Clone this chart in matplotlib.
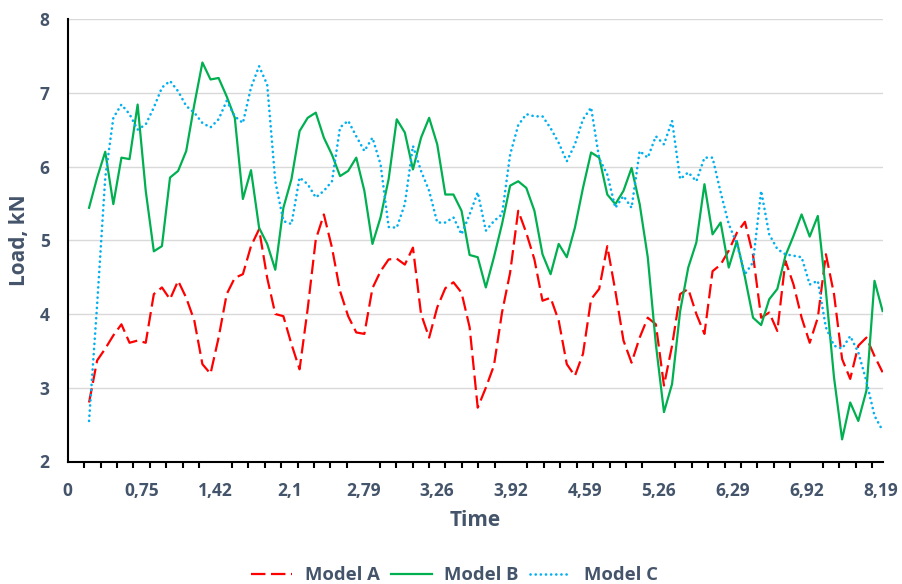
import numpy as np
import matplotlib.pyplot as plt
from matplotlib.ticker import FixedLocator

plt.rcParams['font.family'] = ['Open Sans', 'DejaVu Sans']

TEXT = '#44546A'

# category labels shown under the time axis (every 9th sample slot)
time_labels = ['0', '0,75', '1,42', '2,1', '2,79', '3,26', '3,92', '4,59',
               '5,26', '6,29', '6,92', '8,19']

model_a = [2.80, 3.37, 3.53, 3.71, 3.86, 3.61, 3.64, 3.61, 4.27, 4.36,
           4.20, 4.45, 4.22, 3.91, 3.32, 3.19, 3.68, 4.27, 4.49, 4.54,
           4.92, 5.15, 4.49, 4.00, 3.97, 3.59, 3.25, 4.07, 5.01, 5.35,
           4.90, 4.31, 3.97, 3.75, 3.73, 4.35, 4.58, 4.74, 4.75, 4.67,
           4.90, 4.00, 3.68, 4.09, 4.35, 4.43, 4.29, 3.82, 2.73, 3.00,
           3.30, 4.02, 4.56, 5.40, 5.10, 4.74, 4.18, 4.22, 3.91, 3.32,
           3.16, 3.46, 4.20, 4.34, 4.92, 4.31, 3.64, 3.34, 3.68, 3.95,
           3.86, 3.03, 3.57, 4.27, 4.34, 4.00, 3.73, 4.58, 4.67, 4.86,
           5.10, 5.25, 4.80, 3.95, 4.02, 3.77, 4.72, 4.40, 3.95, 3.61,
           3.95, 4.81, 4.27, 3.39, 3.12, 3.57, 3.68, 3.43, 3.21]

model_b = [5.44, 5.85, 6.20, 5.49, 6.12, 6.10, 6.84, 5.67, 4.85, 4.92,
           5.85, 5.94, 6.21, 6.84, 7.41, 7.18, 7.20, 6.95, 6.66, 5.56,
           5.95, 5.17, 4.95, 4.60, 5.44, 5.83, 6.48, 6.66, 6.73, 6.39,
           6.16, 5.87, 5.94, 6.12, 5.67, 4.95, 5.31, 5.83, 6.64, 6.46,
           5.96, 6.39, 6.66, 6.30, 5.62, 5.62, 5.40, 4.80, 4.77, 4.36,
           4.77, 5.22, 5.74, 5.80, 5.71, 5.40, 4.81, 4.54, 4.95, 4.77,
           5.17, 5.71, 6.19, 6.12, 5.62, 5.49, 5.67, 5.98, 5.49, 4.77,
           3.59, 2.67, 3.05, 4.04, 4.63, 4.97, 5.76, 5.08, 5.24, 4.63,
           4.99, 4.50, 3.95, 3.85, 4.20, 4.34, 4.79, 5.06, 5.35, 5.05,
           5.33, 4.31, 3.14, 2.30, 2.80, 2.55, 2.96, 4.45, 4.04]

model_c = [2.55, 4.13, 5.85, 6.66, 6.84, 6.71, 6.50, 6.57, 6.80, 7.07,
           7.16, 7.02, 6.82, 6.73, 6.59, 6.53, 6.64, 6.89, 6.68, 6.59,
           7.07, 7.36, 7.11, 5.80, 5.26, 5.22, 5.85, 5.76, 5.58, 5.67,
           5.80, 6.53, 6.62, 6.41, 6.21, 6.39, 6.03, 5.18, 5.17, 5.49,
           6.28, 5.94, 5.67, 5.24, 5.24, 5.31, 5.08, 5.35, 5.65, 5.13,
           5.26, 5.35, 6.16, 6.56, 6.71, 6.68, 6.68, 6.52, 6.32, 6.07,
           6.30, 6.64, 6.80, 6.11, 5.89, 5.44, 5.60, 5.44, 6.21, 6.12,
           6.41, 6.30, 6.62, 5.83, 5.92, 5.80, 6.12, 6.12, 5.65, 5.22,
           4.95, 4.54, 4.70, 5.67, 5.08, 4.88, 4.81, 4.79, 4.77, 4.40,
           4.45, 3.82, 3.57, 3.53, 3.70, 3.48, 3.09, 2.62, 2.42]

# sample slots on the category axis (the first couple of slots are empty)
x = np.linspace(2.6, 99.25, len(model_a))

fig = plt.figure(figsize=(9.02, 5.84), dpi=100)
ax = fig.add_axes([67.7 / 902, 1 - 461.5 / 584, (883 - 67.7) / 902, (461.5 - 19) / 584])

ax.plot(x, model_a, color='#FF0000', lw=1.6, linestyle=(0, (6.5, 2.5)), label='Model A')
ax.plot(x, model_b, color='#00B050', lw=1.6, label='Model B')
ax.plot(x, model_c, color='#00B0F0', lw=1.9, linestyle=(0, (0.05, 1.9)),
        dash_capstyle='round', label='Model C')

ax.set_xlim(0, 99.3)
ax.set_ylim(2, 8)
ax.set_yticks(range(2, 9))
ax.set_xticks(np.arange(0, 9 * len(time_labels), 9))
ax.set_xticklabels(time_labels)
ax.xaxis.set_minor_locator(FixedLocator(np.arange(0, 99, 2)))

ax.grid(axis='y', color='#D9D9D9', lw=1)
ax.set_axisbelow(True)
for side in ['top', 'right']:
    ax.spines[side].set_visible(False)
for side in ['left', 'bottom']:
    ax.spines[side].set_linewidth(1.5)
    ax.spines[side].set_color('black')

ax.tick_params(axis='y', length=0, pad=13, labelsize=12.5, labelcolor=TEXT)
ax.tick_params(axis='x', which='major', length=0, pad=15, labelsize=12.5, labelcolor=TEXT)
ax.tick_params(axis='x', which='minor', length=4.5, width=1.5, color='black', direction='out')
for lab in ax.get_xticklabels() + ax.get_yticklabels():
    lab.set_fontweight('bold')

ax.set_ylabel('Load, kN', fontsize=15, fontweight='bold', color=TEXT)
ax.yaxis.label.set_verticalalignment('center')
ax.yaxis.set_label_coords(-0.059, 0.5)
ax.set_xlabel('Time', fontsize=15, fontweight='bold', color=TEXT)
ax.xaxis.label.set_verticalalignment('center')
ax.xaxis.set_label_coords(0.5, -0.134)

fig.legend(loc='center', bbox_to_anchor=(454.5 / 902, 1 - 575 / 584), ncol=3,
           frameon=False, prop={'size': 13.3, 'weight': 'bold'}, labelcolor=TEXT,
           handlelength=2.2, handletextpad=0.7, columnspacing=0.6)

fig.savefig('out.png', dpi=100)
